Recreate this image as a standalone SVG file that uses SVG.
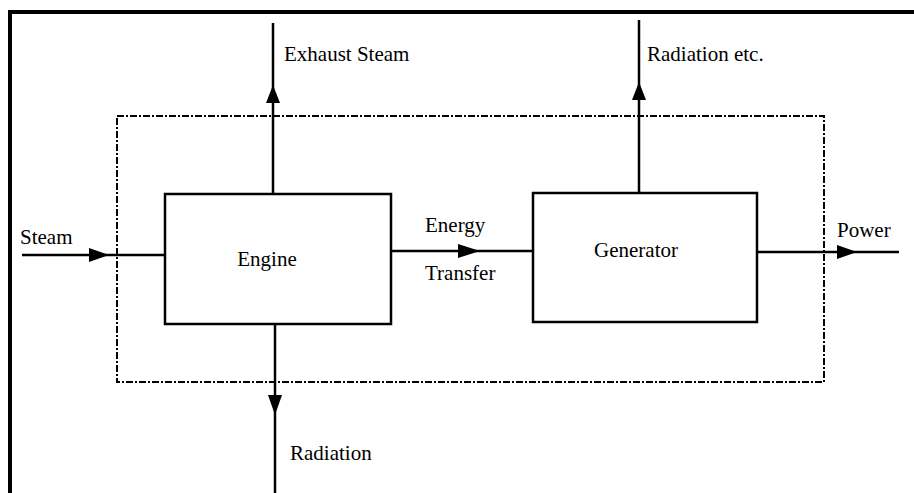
<svg xmlns="http://www.w3.org/2000/svg" width="914" height="493" viewBox="0 0 914 493">
<style>
.frame{fill:none;stroke:#000;stroke-width:4}
.box{fill:#fff;stroke:#000;stroke-width:2.5}
.bound{fill:none;stroke:#000;stroke-width:2;stroke-dasharray:7 2 2 2}
.conn{fill:none;stroke:#000;stroke-width:2.5}
.ah{fill:#000}
text{font-family:"Liberation Serif","Times New Roman",serif;font-size:21px;fill:#000}
</style>
<rect width="914" height="493" fill="#fff"/>
<rect class="frame" x="10" y="12" width="920" height="500"/>
<g id="boundary">
<rect class="bound" x="117" y="116" width="707" height="266"/>
</g>
<g id="connectors">
<line class="conn" x1="22" y1="255" x2="165" y2="255"/>
<polygon class="ah" points="89,248 109,255 89,262"/>
<line class="conn" x1="273" y1="195" x2="273" y2="23"/>
<polygon class="ah" points="266,103 273,85 280,103"/>
<line class="conn" x1="275" y1="324" x2="275" y2="493"/>
<polygon class="ah" points="268,395 275,415 282,395"/>
<line class="conn" x1="391" y1="251" x2="533" y2="251"/>
<polygon class="ah" points="458,244 480,251 458,258"/>
<line class="conn" x1="639" y1="193" x2="639" y2="20"/>
<polygon class="ah" points="632,100 639,82 646,100"/>
<line class="conn" x1="757" y1="252" x2="899" y2="252"/>
<polygon class="ah" points="837,245 857,252 837,259"/>
</g>
<g id="engine">
<rect class="box" x="165" y="194" width="226" height="130"/>
<text x="267" y="266" text-anchor="middle">Engine</text>
</g>
<g id="generator">
<rect class="box" x="533" y="193" width="224" height="129"/>
<text x="636" y="257" text-anchor="middle">Generator</text>
</g>
<g id="labels">
<text x="20" y="244">Steam</text>
<text x="284" y="61">Exhaust Steam</text>
<text x="647" y="61">Radiation etc.</text>
<text x="425" y="232">Energy</text>
<text x="425" y="280">Transfer</text>
<text x="837" y="237">Power</text>
<text x="290" y="460">Radiation</text>
</g>
</svg>
